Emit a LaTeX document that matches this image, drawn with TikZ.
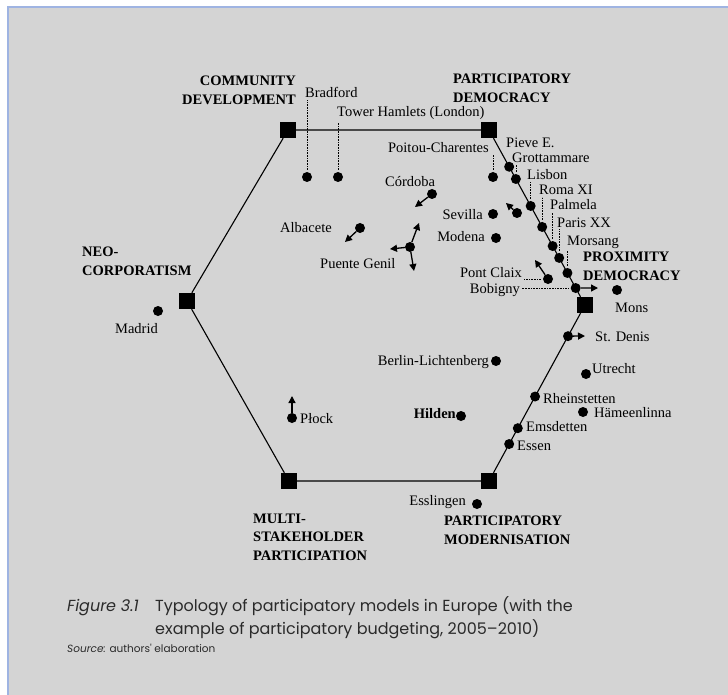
\documentclass[tikz,border=0pt]{standalone}
\usepackage{fontspec}
\setmainfont{Liberation Serif}
\newfontfamily\capfont{Poppins}
\usetikzlibrary{arrows.meta,calc}
\definecolor{paper}{HTML}{D4D4D4}
\definecolor{frameblue}{HTML}{9FB4E2}
\definecolor{captext}{HTML}{2A2A2A}

\begin{document}
\begin{tikzpicture}[x=1pt, y=-1pt,
  model/.style={shape=rectangle, fill=black, inner sep=0pt, minimum size=16pt},
  mtitle/.style={inner sep=0pt, align=left, font=\fontsize{14.5}{18.3}\selectfont\bfseries},
  case/.style={shape=circle, fill=black, inner sep=0pt, minimum size=10pt},
  town/.style={inner sep=0pt, font=\fontsize{14.5}{17}\selectfont},
  move/.style={line width=1.3pt, -{Triangle[length=7pt,width=7pt]}},
  leader/.style={densely dotted, line width=0.6pt, shorten <=2pt, shorten >=2pt},
  side/.style={line width=1.1pt},
  capline/.style={inner sep=0pt, anchor=base west, text=captext}]
\useasboundingbox (0,0) rectangle (728,695);
\fill [paper] (8,7) rectangle (728,695);
\draw [frameblue, line width=1.5pt] (8,695) -- (8,7) -- (728,7);

% the six models
\node [model] (CD) at (288,130) {};
\node [model] (PD) at (489,130) {};
\node [model] (PX) at (585,305) {};
\node [model] (PM) at (489,481) {};
\node [model] (MS) at (289,481) {};
\node [model] (NC) at (187,301) {};
\draw [side] (CD) -- (PD) -- (PX) -- (PM) -- (MS) -- (NC) -- (CD);

\node [mtitle, align=right, anchor=north east] (tCD) at (296,76) {COMMUNITY\\DEVELOPMENT};
\node [mtitle, anchor=north west] (tPD) at (453,74) {PARTICIPATORY\\DEMOCRACY};
\node [mtitle, anchor=north west] (tPX) at (583,252) {PROXIMITY\\DEMOCRACY};
\node [mtitle, anchor=north west] (tNC) at (82,247) {NEO-\\CORPORATISM};
\node [mtitle, anchor=north west] (tMS) at (253,514) {MULTI-\\STAKEHOLDER\\PARTICIPATION};
\node [mtitle, anchor=north west] (tPM) at (444,516) {PARTICIPATORY\\MODERNISATION};

% community development side
\node [case] (Bra) at (307,177) {};
\node [town, anchor=base west] (BraT) at (305,98) {Bradford};
\draw [leader] (Bra.north) -- (Bra.north |- BraT.south);
\node [case] (Tow) at (338,177) {};
\node [town, anchor=base west] (TowT) at (337,117) {Tower Hamlets (London)};
\draw [leader] (Tow.north) -- (Tow.north |- TowT.south);

\node [case] (Cor) at (432,194) {};
\node [town, anchor=base west] (CorT) at (385,187) {Córdoba};
\coordinate (CorA) at (415,207);
\draw [move] (Cor) -- (CorA);
\node [case] (Alb) at (360,228) {};
\node [town, anchor=base west] (AlbT) at (280,233) {Albacete};
\coordinate (AlbA) at (345,242);
\draw [move] (Alb) -- (AlbA);
\node [case] (Pue) at (410,247) {};
\node [town, anchor=base west] (PueT) at (320,268) {Puente Genil};
\coordinate (PueA) at (419,223);
\coordinate (PueB) at (390,249);
\coordinate (PueC) at (414,271);
\draw [move] (Pue) -- (PueA);
\draw [move] (Pue) -- (PueB);
\draw [move] (Pue) -- (PueC);

% participatory democracy side
\node [case] (Poi) at (493,177) {};
\node [town, anchor=base east] (PoiT) at (489,153) {Poitou-Charentes};
\draw [leader] (Poi.north) -- (Poi.north |- PoiT.south);
\node [case] (Sev) at (493,214) {};
\node [town, anchor=base east] (SevT) at (483,219) {Sevilla};
\node [case] (Mod) at (496,238) {};
\node [town, anchor=base east] (ModT) at (485,241) {Modena};
\node [case] (Sec) at (517,213) {};
\coordinate (SecA) at (506,203);
\draw [move] (Sec) -- (SecA);

\node [case] (Pie) at ($(PD)!0.21!(PX)$) {};
\node [town, anchor=base west] (PieT) at (506,148) {Pieve E.};
\node [case] (Gro) at ($(PD)!0.28!(PX)$) {};
\node [town, anchor=base west] (GroT) at (512,163) {Grottammare};
\draw [leader] (Gro.north) -- (Gro.north |- GroT.south);
\node [case] (Lis) at ($(PD)!0.434!(PX)$) {};
\node [town, anchor=base west] (LisT) at (527,180) {Lisbon};
\draw [leader] (Lis.north) -- (Lis.north |- LisT.south);
\node [case] (Rom) at ($(PD)!0.554!(PX)$) {};
\node [town, anchor=base west] (RomT) at (539,195) {Roma XI};
\draw [leader] (Rom.north) -- (Rom.north |- RomT.south);
\node [case] (Pal) at ($(PD)!0.663!(PX)$) {};
\node [town, anchor=base west] (PalT) at (550,210) {Palmela};
\draw [leader] (Pal.north) -- (Pal.north |- PalT.south);
\node [case] (Par) at ($(PD)!0.731!(PX)$) {};
\node [town, anchor=base west] (ParT) at (557,227) {Paris XX};
\draw [leader] (Par.north) -- (Par.north |- ParT.south);
\node [case] (Mor) at ($(PD)!0.817!(PX)$) {};
\node [town, anchor=base west] (MorT) at (567,245) {Morsang};
\draw [leader] (Mor.north) -- (Mor.north |- MorT.south);

\node [case] (Pon) at (548,279) {};
\node [town, anchor=base east] (PonT) at (522,277) {Pont Claix};
\draw [leader] (Pon.west) -- (PonT.east |- Pon.west);
\coordinate (PonA) at (535,260);
\draw [move] (Pon) -- (PonA);
\node [case] (Bob) at ($(PD)!0.903!(PX)$) {};
\node [town, anchor=base east] (BobT) at (520,293) {Bobigny};
\draw [leader] (Bob.west) -- (BobT.east |- Bob.west);
\coordinate (BobA) at (598,288);
\draw [move] (Bob) -- (BobA);

% proximity democracy and modernisation side
\node [case] (Mon) at (617,290) {};
\node [town, anchor=base west] (MonT) at (615,312) {Mons};
\node [case] (Den) at ($(PX)!0.177!(PM)$) {};
\node [town, anchor=base west] (DenT) at (595,341) {St. Denis};
\coordinate (DenA) at (585,336);
\draw [move] (Den) -- (DenA);
\node [case] (Utr) at (586,374) {};
\node [town, anchor=base west] (UtrT) at (592,373) {Utrecht};
\node [case] (Rhe) at ($(PX)!0.52!(PM)$) {};
\node [town, anchor=base west] (RheT) at (543,403) {Rheinstetten};
\node [case] (Ham) at (583,412) {};
\node [town, anchor=base west] (HamT) at (594,417) {Hämeenlinna};
\node [case] (Ems) at ($(PX)!0.70!(PM)$) {};
\node [town, anchor=base west] (EmsT) at (526,431) {Emsdetten};
\node [case] (Ess) at ($(PX)!0.79!(PM)$) {};
\node [town, anchor=base west] (EssT) at (517,450) {Essen};
\node [case] (Esl) at (477,504) {};
\node [town, anchor=base east] (EslT) at (466,505) {Esslingen};

% middle and left
\node [case] (Ber) at (496,361) {};
\node [town, anchor=base east] (BerT) at (489,365) {Berlin-Lichtenberg};
\node [case] (Hil) at (461,416) {};
\node [town, anchor=base east, font=\fontsize{14.5}{17}\selectfont\bfseries] (HilT) at (456,418) {Hilden};
\node [case] (Plo) at (292,418) {};
\node [town, anchor=base west] (PloT) at (300,423) {Płock};
\coordinate (PloA) at (292,396);
\draw [move] (Plo) -- (PloA);
\node [case] (Mad) at (158,311) {};
\node [town, anchor=base east] (MadT) at (158,333) {Madrid};

% caption
\node [capline, font=\capfont\fontsize{16}{23}\selectfont\itshape] (fig) at (67,611) {Figure 3.1};
\node [capline, align=left, font=\capfont\fontsize{16}{23}\selectfont] (cap) at (155,634)
  {Typology of participatory models in Europe (with the\\example of participatory budgeting, 2005\textendash 2010)};
\node [capline, font=\capfont\fontsize{10.5}{13}\selectfont] (src) at (67,652) {\itshape Source:\upshape{} authors' elaboration};
\end{tikzpicture}
\end{document}
